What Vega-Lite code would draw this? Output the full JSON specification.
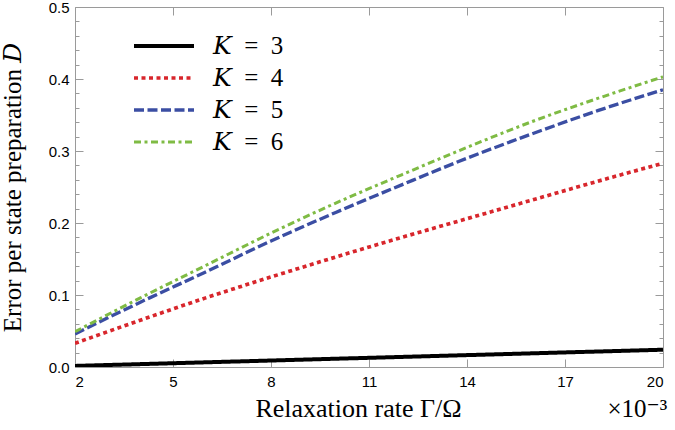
{
  "$schema": "https://vega.github.io/schema/vega-lite/v6.json",
  "autosize": {"type": "none"},
  "padding": {"left": 75, "top": 7, "right": 12, "bottom": 63},
  "width": 588,
  "height": 360,
  "config": {
    "view": {"stroke": "#9a9a9a", "strokeWidth": 1},
    "axis": {
      "domain": false,
      "grid": false,
      "tickColor": "#9a9a9a",
      "tickWidth": 1,
      "labelFont": "Liberation Sans",
      "labelFontSize": 15,
      "labelColor": "#000000",
      "titleFont": "Liberation Serif, DejaVu Serif",
      "titleFontWeight": "normal",
      "titleColor": "#000000"
    }
  },
  "data": {
    "values": [
      {"K": "𝐾 = 3", "G": 2, "D": 0.0015},
      {"K": "𝐾 = 3", "G": 4, "D": 0.004},
      {"K": "𝐾 = 3", "G": 6, "D": 0.0065},
      {"K": "𝐾 = 3", "G": 8, "D": 0.009},
      {"K": "𝐾 = 3", "G": 10, "D": 0.0115},
      {"K": "𝐾 = 3", "G": 12, "D": 0.014},
      {"K": "𝐾 = 3", "G": 14, "D": 0.0165},
      {"K": "𝐾 = 3", "G": 16, "D": 0.019},
      {"K": "𝐾 = 3", "G": 18, "D": 0.0215},
      {"K": "𝐾 = 3", "G": 20, "D": 0.024},
      {"K": "𝐾 = 4", "G": 2, "D": 0.033},
      {"K": "𝐾 = 4", "G": 4, "D": 0.065},
      {"K": "𝐾 = 4", "G": 6, "D": 0.096},
      {"K": "𝐾 = 4", "G": 8, "D": 0.125},
      {"K": "𝐾 = 4", "G": 10, "D": 0.153},
      {"K": "𝐾 = 4", "G": 12, "D": 0.18},
      {"K": "𝐾 = 4", "G": 14, "D": 0.206},
      {"K": "𝐾 = 4", "G": 16, "D": 0.232},
      {"K": "𝐾 = 4", "G": 18, "D": 0.258},
      {"K": "𝐾 = 4", "G": 20, "D": 0.283},
      {"K": "𝐾 = 5", "G": 2, "D": 0.046},
      {"K": "𝐾 = 5", "G": 4, "D": 0.09},
      {"K": "𝐾 = 5", "G": 6, "D": 0.132},
      {"K": "𝐾 = 5", "G": 8, "D": 0.175},
      {"K": "𝐾 = 5", "G": 10, "D": 0.215},
      {"K": "𝐾 = 5", "G": 12, "D": 0.253},
      {"K": "𝐾 = 5", "G": 14, "D": 0.29},
      {"K": "𝐾 = 5", "G": 16, "D": 0.324},
      {"K": "𝐾 = 5", "G": 18, "D": 0.356},
      {"K": "𝐾 = 5", "G": 20, "D": 0.385},
      {"K": "𝐾 = 6", "G": 2, "D": 0.049},
      {"K": "𝐾 = 6", "G": 4, "D": 0.096},
      {"K": "𝐾 = 6", "G": 6, "D": 0.141},
      {"K": "𝐾 = 6", "G": 8, "D": 0.186},
      {"K": "𝐾 = 6", "G": 10, "D": 0.228},
      {"K": "𝐾 = 6", "G": 12, "D": 0.267},
      {"K": "𝐾 = 6", "G": 14, "D": 0.305},
      {"K": "𝐾 = 6", "G": 16, "D": 0.341},
      {"K": "𝐾 = 6", "G": 18, "D": 0.373},
      {"K": "𝐾 = 6", "G": 20, "D": 0.403}
    ]
  },
  "resolve": {"axis": {"x": "independent", "y": "independent"}},
  "layer": [
    {
      "mark": {"type": "line", "interpolate": "monotone", "clip": true},
      "encoding": {
        "x": {
          "field": "G", "type": "quantitative",
          "scale": {"domain": [2, 20], "nice": false, "zero": false},
          "axis": {
            "orient": "bottom", "values": [2, 5, 8, 11, 14, 17, 20],
            "tickSize": -8, "labelPadding": 15,
            "title": "Relaxation rate Γ/Ω", "titleFontSize": 26,
            "titleX": 283, "titleY": 49, "titleAlign": "center", "titleBaseline": "alphabetic"
          }
        },
        "y": {
          "field": "D", "type": "quantitative",
          "scale": {"domain": [0, 0.5], "nice": false},
          "axis": {
            "orient": "left", "values": [0, 0.1, 0.2, 0.3, 0.4, 0.5], "format": ".1f",
            "tickSize": -8, "labelPadding": 14,
            "title": "Error per state preparation 𝐷", "titleFontSize": 25,
            "titleX": -55, "titleY": 180, "titleAngle": -90, "titleAlign": "center", "titleBaseline": "alphabetic"
          }
        },
        "color": {
          "field": "K", "type": "nominal",
          "scale": {"domain": ["𝐾 = 3", "𝐾 = 4", "𝐾 = 5", "𝐾 = 6"], "range": ["#000000", "#d8262c", "#3b4ea3", "#7fbb44"]},
          "legend": {
            "orient": "none", "legendX": 57, "legendY": 23, "title": null,
            "symbolType": "stroke", "symbolSize": 3600, "symbolStrokeWidth": 3,
            "labelFont": "Liberation Serif, DejaVu Serif", "labelFontSize": 25, "labelColor": "#000000",
            "labelExpr": "replace(datum.label, regexp(' ', 'g'), '\\u2002')",
            "labelOffset": 17, "clipHeight": 32, "rowPadding": 0, "padding": 0
          }
        },
        "strokeDash": {
          "field": "K", "type": "nominal",
          "scale": {"domain": ["𝐾 = 3", "𝐾 = 4", "𝐾 = 5", "𝐾 = 6"], "range": [[1, 0], [4, 3.5], [10, 3.5], [7, 3.5, 3, 3.5]]},
          "legend": null
        },
        "strokeWidth": {
          "field": "K", "type": "nominal",
          "scale": {"domain": ["𝐾 = 3", "𝐾 = 4", "𝐾 = 5", "𝐾 = 6"], "range": [4, 3, 3, 3]},
          "legend": null
        }
      }
    },
    {
      "mark": {"type": "line", "strokeOpacity": 0},
      "encoding": {
        "x": {
          "field": "G", "type": "quantitative",
          "axis": {"orient": "top", "values": [2, 5, 8, 11, 14, 17, 20], "tickSize": -8, "labels": false, "title": null}
        },
        "y": {
          "field": "D", "type": "quantitative",
          "axis": {"orient": "right", "values": [0, 0.1, 0.2, 0.3, 0.4, 0.5], "tickSize": -8, "labels": false, "title": null}
        }
      }
    },
    {
      "mark": {"type": "line", "strokeOpacity": 0},
      "encoding": {
        "x": {
          "field": "G", "type": "quantitative",
          "axis": {"orient": "bottom", "ticks": false, "labels": false, "title": "×10⁻³", "titleFontSize": 25, "titleX": 532, "titleY": 49, "titleAlign": "left", "titleBaseline": "alphabetic"}
        },
        "y": {
          "field": "D", "type": "quantitative",
          "axis": {"orient": "left", "values": [0.02, 0.04, 0.06, 0.08, 0.12, 0.14, 0.16, 0.18, 0.22, 0.24, 0.26, 0.28, 0.32, 0.34, 0.36, 0.38, 0.42, 0.44, 0.46, 0.48], "tickSize": -4, "labels": false, "title": null}
        }
      }
    },
    {
      "mark": {"type": "line", "strokeOpacity": 0},
      "encoding": {
        "x": {"field": "G", "type": "quantitative", "axis": null},
        "y": {
          "field": "D", "type": "quantitative",
          "axis": {"orient": "right", "values": [0.02, 0.04, 0.06, 0.08, 0.12, 0.14, 0.16, 0.18, 0.22, 0.24, 0.26, 0.28, 0.32, 0.34, 0.36, 0.38, 0.42, 0.44, 0.46, 0.48], "tickSize": -4, "labels": false, "title": null}
        }
      }
    }
  ]
}
